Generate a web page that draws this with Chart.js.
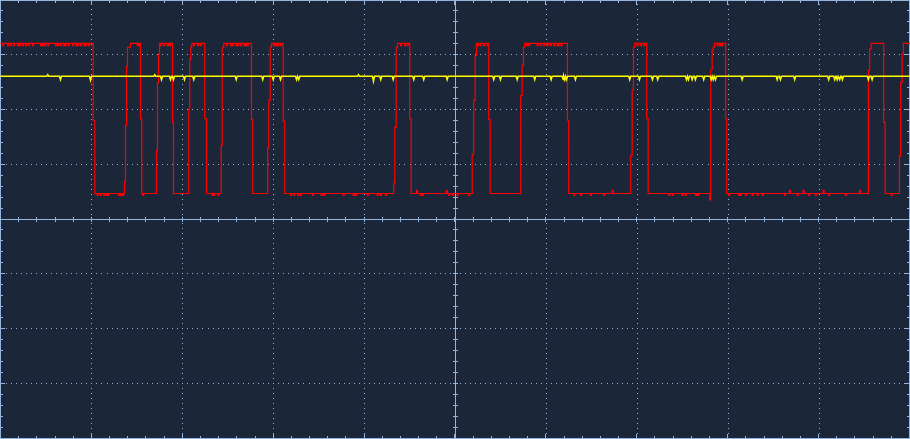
<!DOCTYPE html>
<html>
<head>
<meta charset="utf-8">
<script src="https://cdn.jsdelivr.net/npm/chart.js@4/dist/chart.umd.min.js"></script>
<style>
  html, body { margin: 0; padding: 0; background: #1c2639; }
  canvas { display: block; }
</style>
</head>
<body>
<canvas id="c" width="910" height="439"></canvas>
<script>
// ---- Data (time in µs, 10 µs/div; voltage in V, 1 V/div) ----
const SAMPLE = 0.11; // scope sample interval, µs

// CH2 (red): change points of the stepped waveform (level starts at each time)
const redEdgeT = [0, 10.20, 10.37, 13.64, 13.75, 13.86, 13.97, 14.30, 15.40, 15.54,
  17.16, 17.27, 17.38, 17.49, 18.92, 19.03, 20.71, 20.82, 20.93, 21.04, 22.47, 22.66,
  24.28, 24.39, 24.56, 27.61, 27.75, 29.40, 29.51, 29.67, 29.81, 31.10, 31.27,
  43.26, 43.37, 43.53, 43.67, 45.02, 45.18, 51.89, 52.06, 52.22, 52.36, 53.71, 53.87,
  57.23, 57.39, 57.53, 57.67, 62.37, 62.51, 69.33, 69.49, 69.63, 69.77, 71.09, 71.25,
  78.02, 78.13, 78.29, 78.40, 78.54, 79.78, 79.89, 95.48, 95.62, 95.78, 97.16, 97.32,
  98.89, 99.03, 99.19, 99.33, 100.2];
const redEdgeV = [3.20, 1.80, 0.465, 0.68, 1.70, 2.78, 3.13, 3.20, 1.83, 0.465,
  1.25, 2.48, 3.00, 3.20, 1.76, 0.465, 2.00, 2.91, 3.13, 3.20, 1.83, 0.465,
  1.34, 3.13, 3.20, 1.81, 0.465, 1.30, 2.16, 3.13, 3.20, 1.78, 0.465,
  0.64, 1.67, 3.13, 3.20, 1.83, 0.465, 1.18, 2.16, 2.98, 3.20, 1.81, 0.465,
  2.25, 2.80, 3.13, 3.20, 1.80, 0.465, 1.16, 2.35, 3.13, 3.20, 1.83, 0.465,
  0.35, 2.72, 3.08, 3.13, 3.20, 1.83, 0.465, 2.71, 3.10, 3.20, 1.76, 0.465,
  1.14, 2.49, 3.01, 3.20, 3.20];

// CH2 noise: one-sample excursions
const highNoiseV = 3.16;
const highNoiseT = [0.22, 0.77, 1.10, 1.43, 1.87, 2.09, 2.42, 2.75, 3.08, 3.52, 4.40, 4.62,
  4.84, 5.17, 6.05, 6.27, 6.60, 6.93, 7.15, 7.48, 7.92, 8.25, 8.47, 8.80, 9.13, 9.35, 9.68,
  15.04, 15.18, 17.60, 17.96, 18.34, 18.59, 21.23, 21.67, 22.00, 24.86, 25.30, 25.49, 25.85,
  26.10, 26.40, 26.76, 26.95, 27.14, 30.03, 30.25, 30.50, 30.80, 44.00, 44.44, 44.74,
  52.50, 52.80, 53.16, 53.54, 57.86, 58.11, 59.04, 59.40, 59.76, 60.14, 60.50, 60.86,
  61.24, 61.41, 61.68, 70.04, 70.40, 70.76, 78.84, 79.12, 79.34];
const lowNoiseV = 0.43;
const lowNoiseT = [10.64, 11.00, 11.36, 11.66, 11.80, 13.01, 13.20, 13.45, 15.65, 23.29,
  23.46, 23.90, 31.90, 32.26, 32.70, 33.00, 34.29, 35.28, 35.56, 37.70, 38.80, 39.05, 40.34,
  41.44, 41.80, 42.35, 46.20, 46.39, 49.31, 49.69, 50.24, 51.51, 63.06, 63.80, 64.90, 66.36,
  73.51, 73.89, 74.99, 75.35, 76.45, 76.70, 80.11, 81.21, 81.40, 81.95, 82.69, 83.24, 83.79,
  86.24, 87.64, 88.91, 89.65, 91.11, 92.95, 97.98];
const lowBlipV = 0.52;
const lowBlipT = [45.76, 49.03, 67.29, 86.79, 88.30, 90.50, 94.52];

// CH1 (yellow): baseline with short glitches
const yellowBase = 2.60;
const yellowDipT = [5.20, 6.60, 9.90, 16.97, 17.71, 18.70, 19.03, 20.24, 21.26, 25.93, 28.85,
  30.00, 30.80, 32.56, 32.81, 39.38, 41.03, 41.83, 43.20, 45.46, 46.56, 49.14, 54.26, 55.00,
  56.84, 58.77, 60.58, 61.90, 62.07, 62.26, 63.25, 69.22, 70.29, 71.72, 72.30, 75.46, 75.68,
  76.09, 76.45, 77.36, 78.18, 78.40, 78.65, 81.59, 85.44, 85.80, 87.37, 91.11, 91.77, 92.04,
  92.32, 92.62, 95.48, 95.89];
const yellowDipV = [2.63, 2.54, 2.53, 2.63, 2.54, 2.54, 2.54, 2.54, 2.54, 2.54, 2.54,
  2.54, 2.54, 2.54, 2.54, 2.63, 2.51, 2.54, 2.54, 2.54, 2.54, 2.54, 2.54, 2.54,
  2.54, 2.54, 2.54, 2.54, 2.54, 2.54, 2.54, 2.54, 2.54, 2.54, 2.54, 2.54, 2.54,
  2.54, 2.54, 2.54, 2.54, 2.54, 2.54, 2.54, 2.54, 2.54, 2.54, 2.54, 2.54, 2.54,
  2.54, 2.54, 2.54, 2.54];

// Screen: 10 x 8 divisions
const T_DIV = 10, V_DIV = 1, H_DIVS = 10, V_DIVS = 8;

// ---- Build datasets ----
function levelAt(t) {
  let v = redEdgeV[0];
  for (let i = 0; i < redEdgeT.length; i++) if (redEdgeT[i] <= t) v = redEdgeV[i];
  return v;
}
function buildRed() {
  const pts = redEdgeT.map((t, i) => ({ x: t, y: redEdgeV[i] }));
  const add = (ts, v) => ts.forEach(t => {
    pts.push({ x: t, y: v });
    pts.push({ x: +(t + SAMPLE).toFixed(3), y: levelAt(t) });
  });
  add(highNoiseT, highNoiseV);
  add(lowNoiseT, lowNoiseV);
  add(lowBlipT, lowBlipV);
  pts.sort((a, b) => a.x - b.x);
  return pts;
}
function buildYellow() {
  const pts = [{ x: 0, y: yellowBase }];
  yellowDipT.forEach((t, i) => {
    const last = pts[pts.length - 1];
    if (last.x >= t - SAMPLE && pts.length > 1) pts.pop();
    pts.push({ x: t - SAMPLE, y: yellowBase });
    pts.push({ x: t, y: yellowDipV[i] });
    pts.push({ x: t + SAMPLE, y: yellowBase });
  });
  pts.push({ x: 100.2, y: yellowBase });
  return pts;
}

const BG = '#1c2639';
const GRID = '#94b6de';

const bgPlugin = {
  id: 'bg',
  beforeDraw(chart) {
    const { ctx } = chart;
    ctx.save();
    ctx.fillStyle = BG;
    ctx.fillRect(0, 0, chart.width, chart.height);
    ctx.restore();
  }
};

const graticule = {
  id: 'graticule',
  beforeDatasetsDraw(chart) {
    const { ctx, scales: { x, y } } = chart;
    const tMax = T_DIV * H_DIVS, vTop = V_DIV * V_DIVS / 2, vBot = -vTop;
    const W = chart.width, H = chart.height;
    const right = Math.min(W - 1, Math.floor(x.getPixelForValue(tMax)));
    const bottom = Math.min(H - 1, Math.floor(y.getPixelForValue(vBot)));
    ctx.save();
    ctx.fillStyle = GRID;
    for (let i = 1; i < H_DIVS; i++) {
      if (i === H_DIVS / 2) continue;
      const px = Math.round(x.getPixelForValue(i * T_DIV));
      const n = V_DIVS * 11;
      for (let k = 1; k < n; k++) {
        const py = Math.floor(y.getPixelForValue(vBot + k * (vTop - vBot) / n));
        ctx.fillRect(px, py, 1, 1);
      }
    }
    for (let j = -V_DIVS / 2 + 1; j < V_DIVS / 2; j++) {
      if (j === 0) continue;
      const py = Math.floor(y.getPixelForValue(j * V_DIV));
      const n = H_DIVS * 18;
      for (let k = 1; k < n; k++) {
        const px = Math.round(x.getPixelForValue(k * tMax / n));
        ctx.fillRect(px, py, 1, 1);
      }
    }
    const cx = Math.round(x.getPixelForValue(tMax / 2));
    const cy = Math.floor(y.getPixelForValue(0));
    ctx.fillRect(cx, 0, 1, bottom + 1);
    ctx.fillRect(0, cy, right + 1, 1);
    ctx.fillRect(0, 0, right + 1, 1);
    ctx.fillRect(0, bottom, right + 1, 1);
    ctx.fillRect(0, 0, 1, bottom + 1);
    ctx.fillRect(right, 0, 1, bottom + 1);
    for (let k = 1; k < H_DIVS * 5; k++) {
      const px = Math.floor(x.getPixelForValue(k * T_DIV / 5));
      const len = (k % 5 === 0) ? 5 : 3;
      ctx.fillRect(px, 0, 1, len);
      ctx.fillRect(px, bottom - len + 1, 1, len);
      ctx.fillRect(px, cy - 2, 1, 5);
    }
    for (let k = 1; k < V_DIVS * 5; k++) {
      const py = Math.floor(y.getPixelForValue(vBot + k * V_DIV / 5));
      const len = (k % 5 === 0) ? 5 : 3;
      ctx.fillRect(0, py, len, 1);
      ctx.fillRect(right - len + 1, py, len, 1);
      ctx.fillRect(cx - 2, py, 5, 1);
    }
    ctx.restore();
  }
};

new Chart(document.getElementById('c'), {
  type: 'line',
  data: {
    datasets: [
      {
        label: 'CH1',
        data: buildYellow(),
        borderColor: '#ffff00',
        borderWidth: 1.5,
        pointRadius: 0,
        tension: 0,
        fill: false
      },
      {
        label: 'CH2',
        data: buildRed(),
        borderColor: '#ff0000',
        borderWidth: 1.2,
        pointRadius: 0,
        tension: 0,
        stepped: 'before',
        fill: false
      }
    ]
  },
  options: {
    responsive: false,
    animation: false,
    events: [],
    layout: { padding: 0 },
    plugins: { legend: { display: false }, tooltip: { enabled: false } },
    scales: {
      x: { type: 'linear', display: false, min: -0.055, max: 100.055 },
      y: { type: 'linear', display: false, min: -4.00911, max: 3.99089 }
    }
  },
  plugins: [bgPlugin, graticule]
});
</script>
</body>
</html>
